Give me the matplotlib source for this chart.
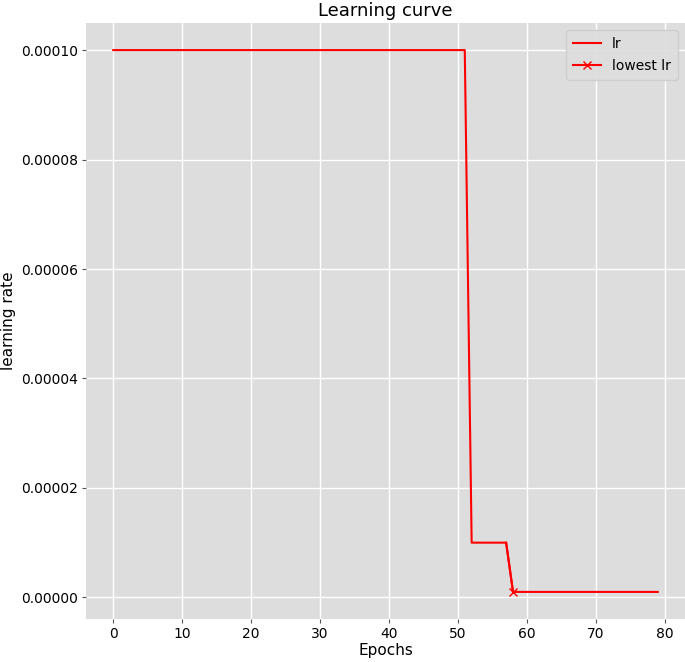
import matplotlib
matplotlib.use("Agg")
import matplotlib.pyplot as plt
import numpy as np

epochs = list(range(80))
lr = [1e-4] * 52 + [1e-5] * 6 + [1e-6] * 22
lowest_epoch = [58]
lowest_lr = [1e-6]

W, H = 685, 662
fig = plt.figure(figsize=(W / 100, H / 100), dpi=100)
ax = fig.add_axes([86 / W, 1 - 619 / H, (685 - 86) / W, (619 - 23) / H])
ax.set_facecolor("#DDDDDD")
for s in ax.spines.values():
    s.set_visible(False)
ax.grid(True, color="white", linewidth=1.0)
ax.set_axisbelow(True)
ax.tick_params(colors="#555555", labelcolor="black", labelsize=10, length=3, pad=3)

ax.plot(epochs, lr, color="red", linewidth=1.5, label="lr")
ax.plot(lowest_epoch, lowest_lr, color="red", marker="x", linewidth=1.5, markersize=6, label="lowest lr")
ax.plot([57, 58], [1e-5, 1e-6], color="red", linewidth=1.5)

ax.set_xlim(-3.95, 82.95)
ax.set_ylim(-3.95e-6, 1.0495e-4)
ax.set_xticks(np.arange(0, 81, 10))
ax.set_yticks([0, 2e-5, 4e-5, 6e-5, 8e-5, 1e-4])
ax.set_yticklabels(["0.00000", "0.00002", "0.00004", "0.00006", "0.00008", "0.00010"])
ax.set_title("Learning curve", fontsize=13, pad=5)
ax.set_xlabel("Epochs", fontsize=11, labelpad=1)
ax.set_ylabel("learning rate", fontsize=11, labelpad=3)
leg = ax.legend(loc="upper right", fontsize=10, facecolor="#DDDDDD", edgecolor="#CCCCCC",
                framealpha=0.9, borderpad=0.5, labelspacing=0.6)
fig.savefig("out.png", dpi=100)
